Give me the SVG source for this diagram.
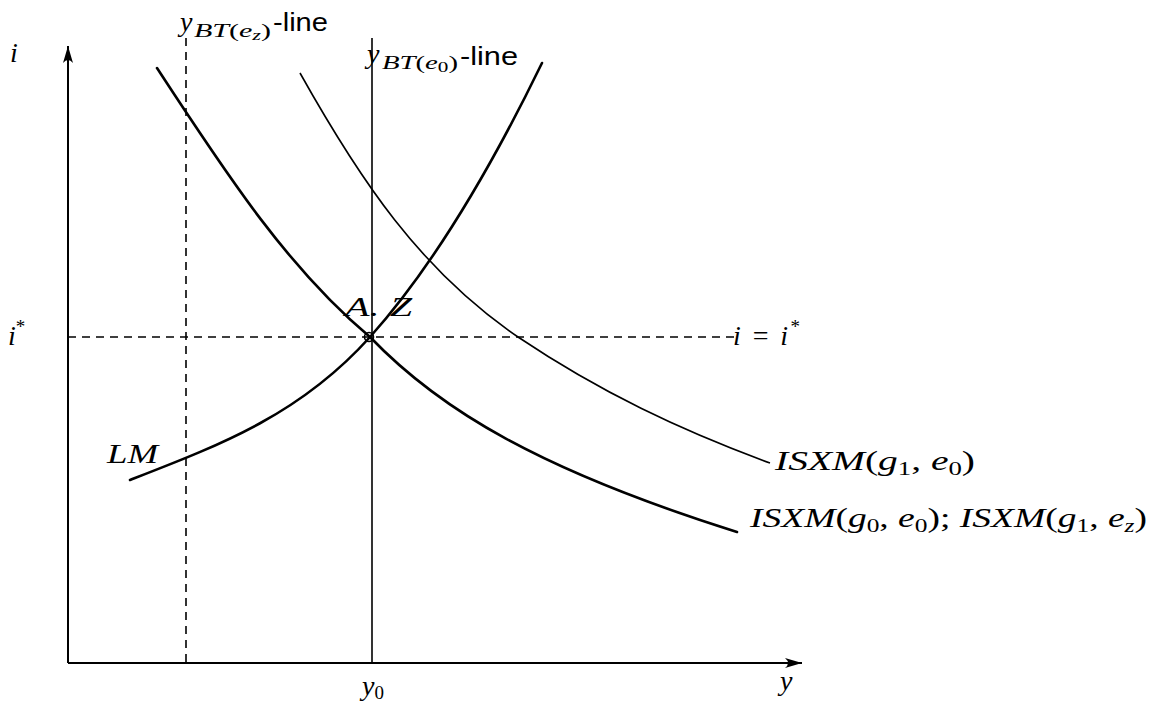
<svg xmlns="http://www.w3.org/2000/svg" width="1152" height="702" viewBox="0 0 1152 702">
<style>
.m{font-family:"Liberation Serif","DejaVu Serif",serif;font-style:italic;font-size:28px;fill:#000}
.r{font-style:normal}
.s{font-size:19px}
.ss{font-size:14px}
.sans{font-family:"Liberation Sans",Arial,sans-serif;font-size:26px;fill:#000}
.ax{stroke:#000;stroke-width:2;fill:none}
.cv{stroke:#000;stroke-width:2.6;fill:none;stroke-linecap:round}
.dash{stroke:#000;stroke-width:1.6;stroke-dasharray:8 6;fill:none}
</style>
<defs>
<marker id="arr" markerUnits="userSpaceOnUse" markerWidth="20" markerHeight="14" viewBox="-18 -7 20 14" refX="0" refY="0" orient="auto">
<path d="M0,0 L-17,-5 Q-11,0 -17,5 Z" fill="#000"/>
</marker>
</defs>
<rect width="1152" height="702" fill="#fff"/>
<g id="axes">
<line class="ax" x1="68" y1="663" x2="68" y2="46" marker-end="url(#arr)"/>
<line class="ax" x1="68" y1="663" x2="802" y2="663" marker-end="url(#arr)"/>
</g>
<g id="guides">
<line class="dash" x1="68" y1="337" x2="735" y2="337"/>
<line class="dash" x1="186" y1="38" x2="186" y2="663"/>
<line x1="372" y1="38" x2="372" y2="663" stroke="#000" stroke-width="1.6"/>
</g>
<g id="connectors">
<path id="LM" class="cv" d="M130,480 C220,445 300,415 370,337 C430,270 490,170 542,63"/>
<path id="ISXM0" class="cv" d="M157,68 C230,180 290,270 370,337 C440,410 540,470 737,532"/>
<path id="ISXM1" d="M300,73 C360,180 420,270 518,337 C600,392 680,430 770,463" stroke="#000" stroke-width="1.6" fill="none"/>
<circle cx="369" cy="337" r="4.5" fill="none" stroke="#000" stroke-width="1.6"/>
</g>
<g id="labels">
<text class="m" x="10" y="62">i</text>
<text class="m" x="8" y="345">i<tspan class="r s" dy="-12">*</tspan></text>
<text class="m" x="362" y="695">y<tspan class="r s" dy="4">0</tspan></text>
<text class="m" x="780" y="690">y</text>
<text class="m" x="107" y="463" textLength="51" lengthAdjust="spacingAndGlyphs">LM</text>
<text class="m" x="345" y="316" textLength="67" lengthAdjust="spacingAndGlyphs">A. Z</text>
<text class="m" x="733" y="345" textLength="67" lengthAdjust="spacing">i <tspan class="r">=</tspan> i<tspan class="r s" dy="-12">*</tspan></text>
<text class="m" x="775" y="470" textLength="200" lengthAdjust="spacingAndGlyphs">ISXM<tspan class="r">(</tspan>g<tspan class="r s" dy="5">1</tspan><tspan class="r" dy="-5">, </tspan>e<tspan class="r s" dy="5">0</tspan><tspan class="r" dy="-5">)</tspan></text>
<text class="m" x="750" y="527" textLength="397" lengthAdjust="spacingAndGlyphs">ISXM<tspan class="r">(</tspan>g<tspan class="r s" dy="5">0</tspan><tspan class="r" dy="-5">, </tspan>e<tspan class="r s" dy="5">0</tspan><tspan class="r" dy="-5">); </tspan>ISXM<tspan class="r">(</tspan>g<tspan class="r s" dy="5">1</tspan><tspan class="r" dy="-5">, </tspan>e<tspan class="s" dy="5">z</tspan><tspan class="r" dy="-5">)</tspan></text>
</g>
<g id="yBTez">
<text class="m" x="180" y="31">y</text>
<text class="m s" x="194" y="37" textLength="77" lengthAdjust="spacingAndGlyphs">BT<tspan class="r">(</tspan>e<tspan class="ss" dy="3">z</tspan><tspan class="r" dy="-3">)</tspan></text>
<text class="sans" x="273" y="31" textLength="55" lengthAdjust="spacingAndGlyphs">-line</text>
</g>
<g id="yBTe0">
<text class="m" x="367" y="63">y</text>
<text class="m s" x="382" y="69" textLength="76" lengthAdjust="spacingAndGlyphs">BT<tspan class="r">(</tspan>e<tspan class="r ss" dy="3">0</tspan><tspan class="r" dy="-3">)</tspan></text>
<text class="sans" x="460" y="65" textLength="58" lengthAdjust="spacingAndGlyphs">-line</text>
</g>
</svg>
